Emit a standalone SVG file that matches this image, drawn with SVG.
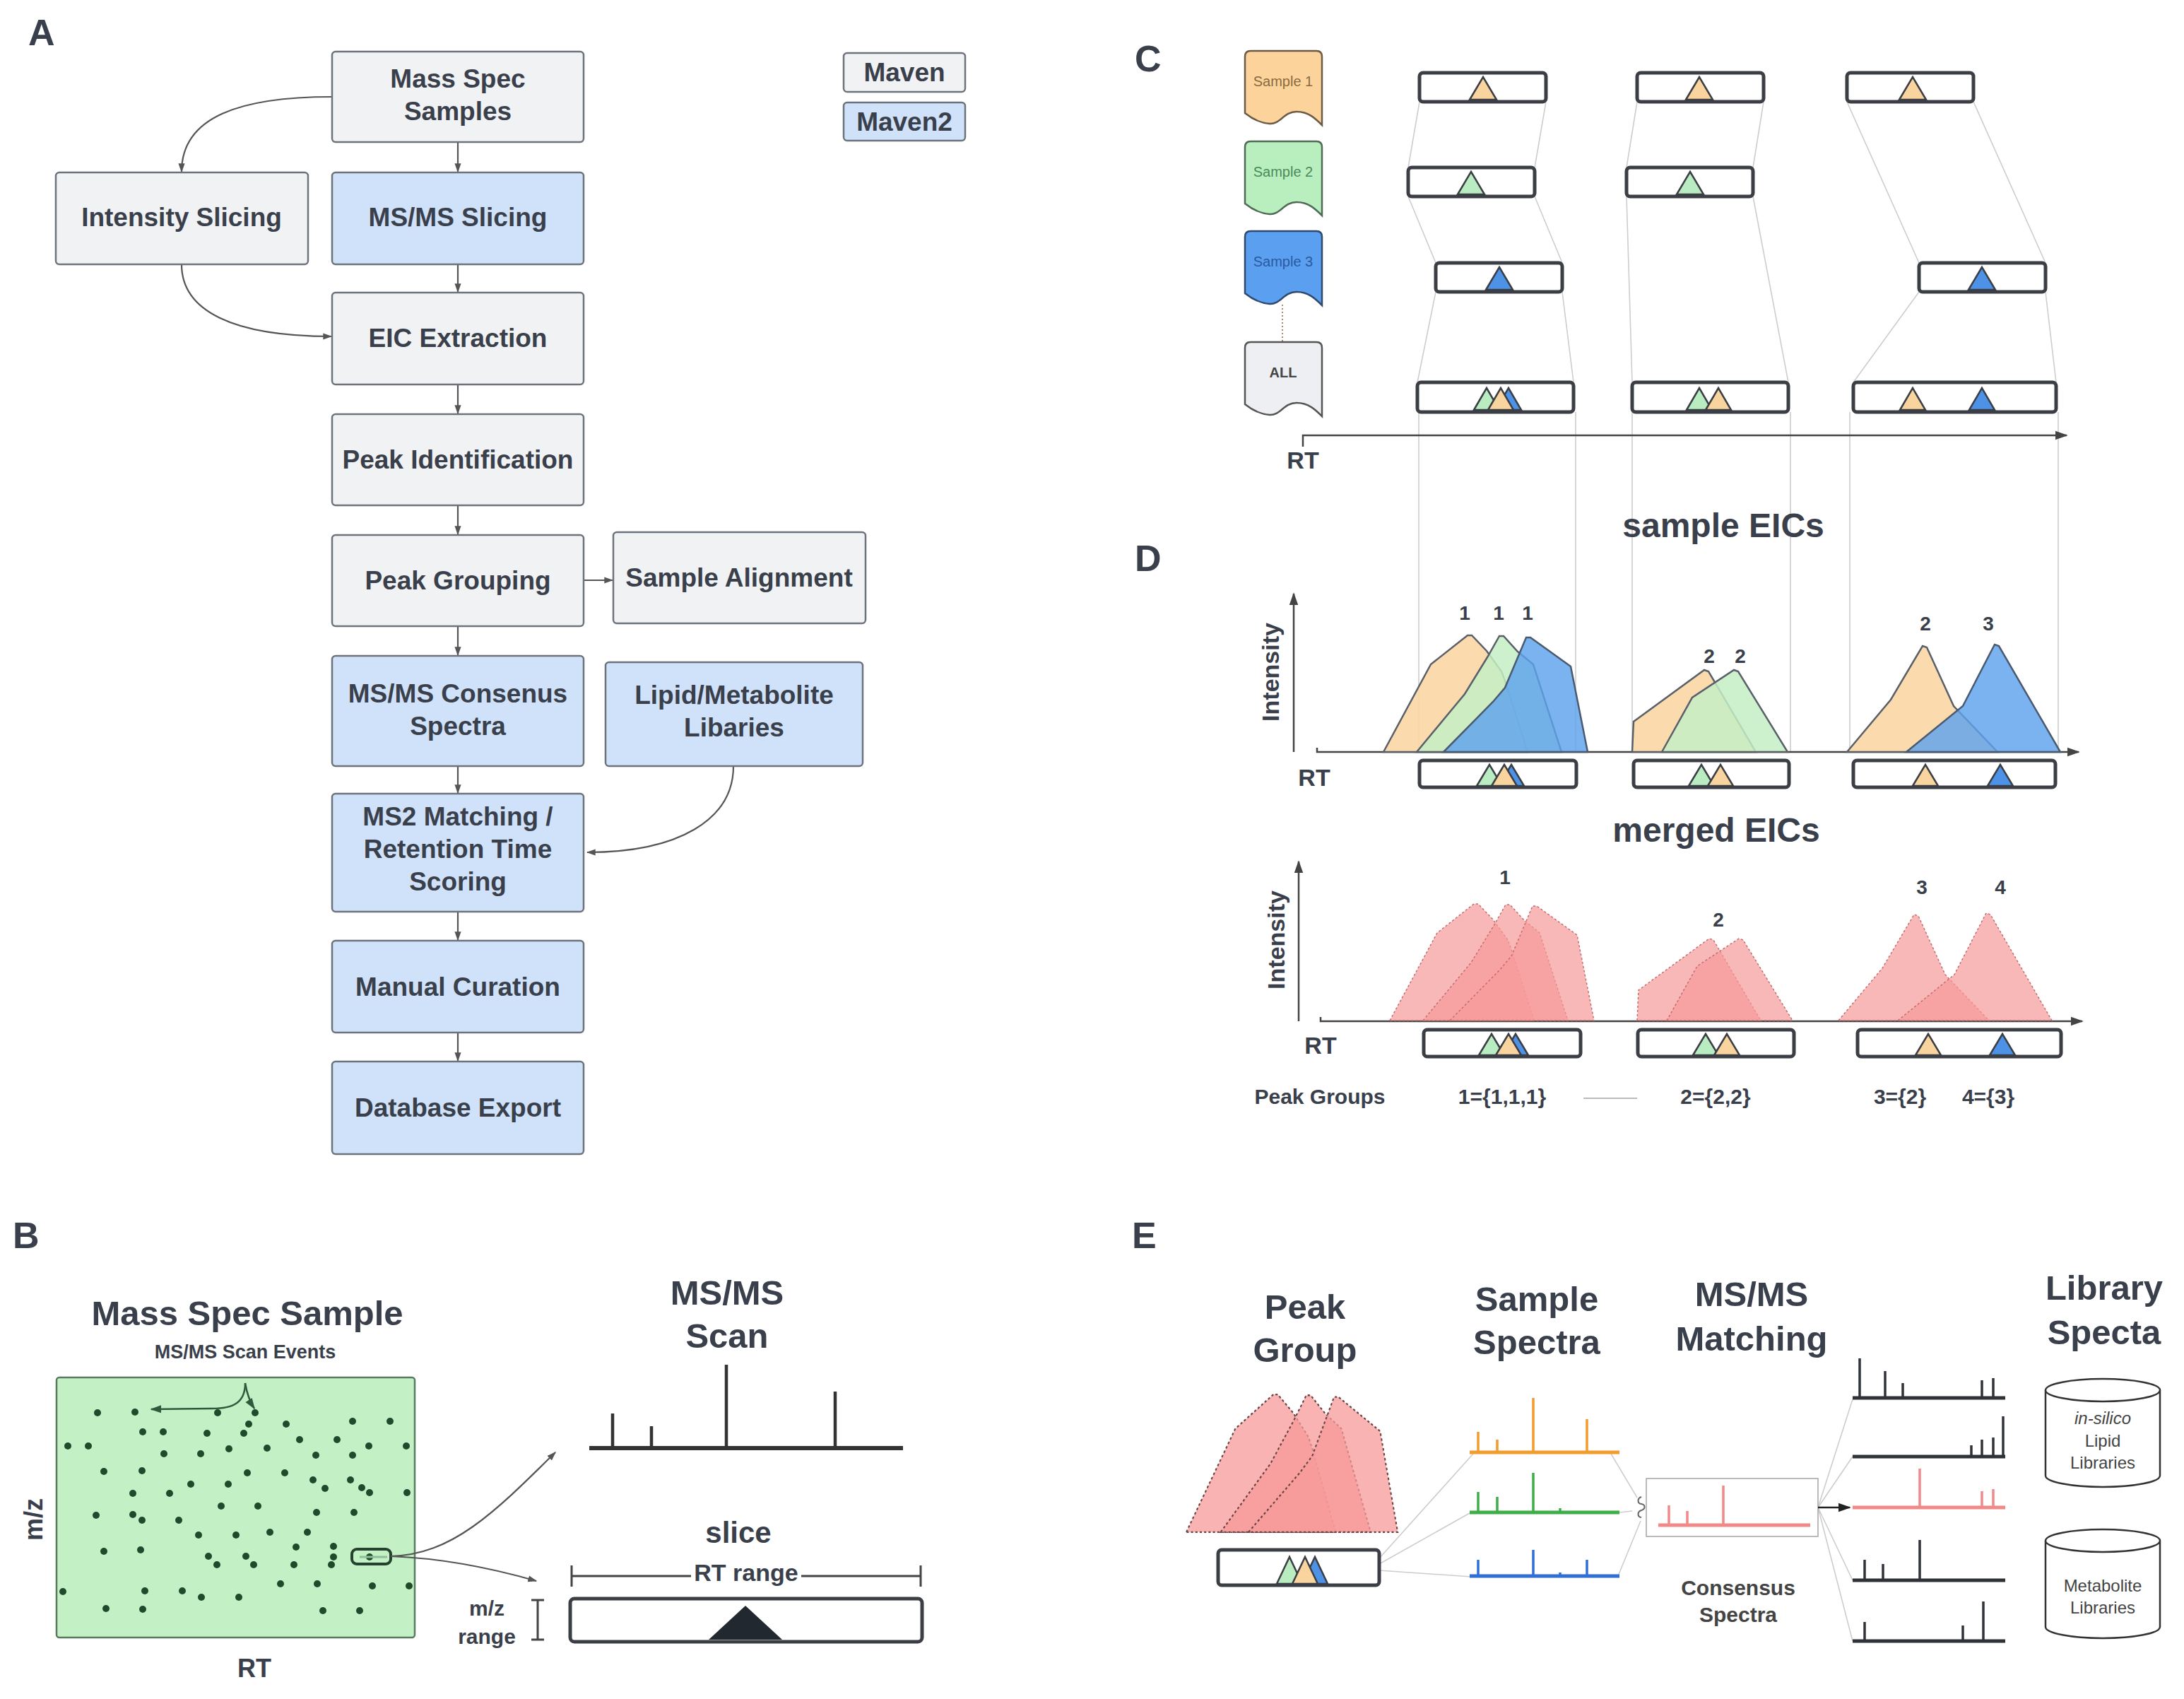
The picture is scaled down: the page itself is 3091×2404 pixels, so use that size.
<svg xmlns="http://www.w3.org/2000/svg" width="3091" height="2404" viewBox="0 0 3091 2404">
<defs>
<style>
text{font-family:"Liberation Sans",Arial,sans-serif;font-weight:bold;fill:#3a404b;text-anchor:middle}
.box{stroke:#6c737d;stroke-width:2.5}
.g{fill:#f1f2f4}
.b{fill:#cfe2fa}
.nt{font-size:37px}
.lbl{font-size:52px;text-anchor:start}
.ttl{font-size:49px}
.flow{fill:none;stroke:#555;stroke-width:2.2;marker-end:url(#ah)}
.eic{fill:#fff;stroke:#3b3e44;stroke-width:5}
.tri{stroke:#3b3e44;stroke-width:2.5}
.to{fill:#f9d49e}.tg{fill:#b9ecc1}.tb{fill:#4d92e6}
.thin{stroke:#cdcdcd;stroke-width:1.6;fill:none}
.axis{fill:none;stroke:#444;stroke-width:2.5;marker-end:url(#ahk)}
.po{fill:#fbd8a6;fill-opacity:.92;stroke:#5a6069;stroke-width:2.5}
.pg{fill:#c4efc4;fill-opacity:.85;stroke:#5a6069;stroke-width:2.5}
.pb{fill:#5ea2ee;fill-opacity:.82;stroke:#4a5a70;stroke-width:2.5}
.mrg{fill:#f79a9a;fill-opacity:.7;stroke:#c46c6c;stroke-width:1.5;stroke-dasharray:3 3}
.epk{fill:#f79a9a;fill-opacity:.75;stroke:#6a4444;stroke-width:2;stroke-dasharray:3 3}
.dot{fill:#1f4a2c}
.num{font-size:28px}
.ax{font-size:34px}
.spb{fill:none;stroke-width:5}
.spp{fill:none;stroke-width:3.5}
.cyl{fill:#fff;stroke:#333;stroke-width:2.5}
.ct{font-size:24px;font-weight:normal;fill:#444}
.doct{font-size:20px;font-weight:normal}
</style>
<marker id="ah" viewBox="0 0 10 10" refX="9" refY="5" markerWidth="13" markerHeight="13" markerUnits="userSpaceOnUse" orient="auto"><path d="M0,1.5 L10,5 L0,8.5 z" fill="#555"/></marker>
<marker id="ahk" viewBox="0 0 10 10" refX="9" refY="5" markerWidth="18" markerHeight="18" markerUnits="userSpaceOnUse" orient="auto"><path d="M0,1.5 L10,5 L0,8.5 z" fill="#444"/></marker>
<marker id="ahg" viewBox="0 0 10 10" refX="9" refY="5" markerWidth="16" markerHeight="16" markerUnits="userSpaceOnUse" orient="auto"><path d="M0,1.5 L10,5 L0,8.5 z" fill="#2f5a3c"/></marker>
<marker id="ahd" viewBox="0 0 10 10" refX="9" refY="5" markerWidth="18" markerHeight="18" markerUnits="userSpaceOnUse" orient="auto"><path d="M0,1.5 L10,5 L0,8.5 z" fill="#222"/></marker>
<path id="doc" d="M8,0 H101 Q109,0 109,8 V105 C100,96 90,86 73,86 C55,86 50,104 35,103 C22,102 10,96 0,88 V8 Q0,0 8,0 Z"/>
<polygon id="o1" points="1958,1064 2025,940 2077,899 2083,899 2104,921 2125,950 2131,966 2162,1064"/>
<polygon id="g1" points="2005,1064 2073,982 2105,930 2122,900 2128,900 2148,922 2170,940 2210,1064"/>
<polygon id="b1" points="2043,1064 2113,993 2130,973 2160,902 2166,902 2223,943 2247,1064"/>
<polygon id="o2" points="2310,1064 2312,1021 2412,948 2418,950 2485,1064"/>
<polygon id="g2" points="2352,1064 2395,987 2454,948 2460,950 2530,1064"/>
<polygon id="o3" points="2614,1064 2676,990 2721,914 2727,916 2765,999 2827,1064"/>
<polygon id="b3" points="2698,1064 2778,999 2823,912 2829,914 2916,1064"/>
</defs>
<rect width="3091" height="2404" fill="#fff"/>

<!-- Panel labels -->
<text class="lbl" x="40" y="64">A</text>
<text class="lbl" x="18" y="1766">B</text>
<text class="lbl" x="1606" y="101">C</text>
<text class="lbl" x="1606" y="808">D</text>
<text class="lbl" x="1602" y="1766">E</text>

<!-- ===== Panel A connectors ===== -->
<g id="connectors-A">
<path class="flow" d="M648 201 V243"/>
<path class="flow" d="M648 374 V413"/>
<path class="flow" d="M648 544 V585"/>
<path class="flow" d="M648 715 V756"/>
<path class="flow" d="M826 821 H867"/>
<path class="flow" d="M648 886 V927"/>
<path class="flow" d="M648 1084 V1122"/>
<path class="flow" d="M648 1290 V1330"/>
<path class="flow" d="M648 1461 V1501"/>
<path class="flow" d="M470 137 C340 137 257 165 257 243"/>
<path class="flow" d="M257 374 C257 440 330 476 469 476"/>
<path class="flow" d="M1038 1084 C1038 1160 960 1206 831 1206"/>
</g>

<!-- ===== Panel A nodes ===== -->
<g id="n-massspec"><rect class="box g" x="470" y="73" width="356" height="128" rx="5"/><text class="nt" x="648" y="124">Mass Spec</text><text class="nt" x="648" y="170">Samples</text></g>
<g id="n-intensity"><rect class="box g" x="79" y="244" width="357" height="130" rx="5"/><text class="nt" x="257" y="320">Intensity Slicing</text></g>
<g id="n-msmsslicing"><rect class="box b" x="470" y="244" width="356" height="130" rx="5"/><text class="nt" x="648" y="320">MS/MS Slicing</text></g>
<g id="n-eic"><rect class="box g" x="470" y="414" width="356" height="130" rx="5"/><text class="nt" x="648" y="491">EIC Extraction</text></g>
<g id="n-peakid"><rect class="box g" x="470" y="586" width="356" height="129" rx="5"/><text class="nt" x="648" y="663">Peak Identification</text></g>
<g id="n-peakgroup"><rect class="box g" x="470" y="757" width="356" height="129" rx="5"/><text class="nt" x="648" y="834">Peak Grouping</text></g>
<g id="n-samplealign"><rect class="box g" x="868" y="753" width="357" height="129" rx="5"/><text class="nt" x="1046" y="830">Sample Alignment</text></g>
<g id="n-consensus"><rect class="box b" x="470" y="928" width="356" height="156" rx="5"/><text class="nt" x="648" y="994">MS/MS Consenus</text><text class="nt" x="648" y="1040">Spectra</text></g>
<g id="n-lipid"><rect class="box b" x="857" y="937" width="364" height="147" rx="5"/><text class="nt" x="1039" y="996">Lipid/Metabolite</text><text class="nt" x="1039" y="1042">Libaries</text></g>
<g id="n-ms2"><rect class="box b" x="470" y="1123" width="356" height="167" rx="5"/><text class="nt" x="648" y="1168">MS2 Matching /</text><text class="nt" x="648" y="1214">Retention Time</text><text class="nt" x="648" y="1260">Scoring</text></g>
<g id="n-manual"><rect class="box b" x="470" y="1331" width="356" height="130" rx="5"/><text class="nt" x="648" y="1409">Manual Curation</text></g>
<g id="n-dbexport"><rect class="box b" x="470" y="1502" width="356" height="131" rx="5"/><text class="nt" x="648" y="1580">Database Export</text></g>
<g id="legend-maven"><rect class="box g" x="1194" y="75" width="172" height="55" rx="5"/><text class="nt" x="1280" y="115">Maven</text></g>
<g id="legend-maven2"><rect class="box b" x="1194" y="145" width="172" height="54" rx="5"/><text class="nt" x="1280" y="185">Maven2</text></g>

<!-- ===== Panel B ===== -->
<g id="panel-B">
<text class="ttl" x="350" y="1875">Mass Spec Sample</text>
<text x="347" y="1922" style="font-size:27px">MS/MS Scan Events</text>
<rect x="80" y="1949" width="507" height="368" rx="4" fill="#c4f0c6" stroke="#587a5e" stroke-width="2.5"/>
<g class="dot">
<circle cx="138" cy="1999" r="5"/><circle cx="191" cy="1998" r="5"/><circle cx="308" cy="1999" r="5"/><circle cx="361" cy="1999" r="5"/>
<circle cx="352" cy="2015" r="5"/><circle cx="405" cy="2015" r="5"/><circle cx="499" cy="2011" r="5"/><circle cx="552" cy="2011" r="5"/>
<circle cx="202" cy="2026" r="5"/><circle cx="231" cy="2026" r="5"/><circle cx="293" cy="2028" r="5"/><circle cx="345" cy="2028" r="5"/>
<circle cx="424" cy="2037" r="5"/><circle cx="477" cy="2037" r="5"/><circle cx="522" cy="2046" r="5"/><circle cx="575" cy="2046" r="5"/>
<circle cx="96" cy="2046" r="5"/><circle cx="125" cy="2046" r="5"/>
<circle cx="232" cy="2057" r="5"/><circle cx="284" cy="2057" r="5"/><circle cx="324" cy="2050" r="5"/><circle cx="378" cy="2049" r="5"/><circle cx="447" cy="2059" r="5"/><circle cx="499" cy="2059" r="5"/>
<circle cx="147" cy="2082" r="5"/><circle cx="201" cy="2081" r="5"/><circle cx="350" cy="2084" r="5"/><circle cx="403" cy="2084" r="5"/>
<circle cx="270" cy="2100" r="5"/><circle cx="323" cy="2100" r="5"/><circle cx="443" cy="2094" r="5"/><circle cx="460" cy="2106" r="5"/><circle cx="496" cy="2094" r="5"/><circle cx="512" cy="2105" r="5"/><circle cx="523" cy="2112" r="5"/><circle cx="576" cy="2112" r="5"/>
<circle cx="188" cy="2113" r="5"/><circle cx="240" cy="2113" r="5"/>
<circle cx="313" cy="2131" r="5"/><circle cx="365" cy="2131" r="5"/>
<circle cx="136" cy="2144" r="5"/><circle cx="188" cy="2143" r="5"/><circle cx="201" cy="2151" r="5"/><circle cx="253" cy="2151" r="5"/><circle cx="448" cy="2140" r="5"/><circle cx="501" cy="2140" r="5"/>
<circle cx="281" cy="2172" r="5"/><circle cx="334" cy="2172" r="5"/><circle cx="382" cy="2168" r="5"/><circle cx="435" cy="2168" r="5"/>
<circle cx="147" cy="2195" r="5"/><circle cx="199" cy="2193" r="5"/><circle cx="419" cy="2189" r="5"/><circle cx="472" cy="2188" r="5"/>
<circle cx="295" cy="2202" r="5"/><circle cx="348" cy="2202" r="5"/><circle cx="472" cy="2203" r="5"/><circle cx="307" cy="2214" r="5"/><circle cx="359" cy="2214" r="5"/><circle cx="416" cy="2214" r="5"/><circle cx="469" cy="2214" r="5"/>
<circle cx="397" cy="2241" r="5"/><circle cx="449" cy="2241" r="5"/><circle cx="527" cy="2244" r="5"/><circle cx="579" cy="2244" r="5"/>
<circle cx="89" cy="2252" r="5"/><circle cx="205" cy="2251" r="5"/><circle cx="258" cy="2251" r="5"/><circle cx="285" cy="2260" r="5"/><circle cx="338" cy="2260" r="5"/>
<circle cx="150" cy="2276" r="5"/><circle cx="202" cy="2277" r="5"/><circle cx="457" cy="2279" r="5"/><circle cx="509" cy="2279" r="5"/>
<circle cx="523" cy="2203" r="5"/>
</g>
<path d="M347 1957 C347 1985 330 1993 300 1993 L214 1994" fill="none" stroke="#2f5a3c" stroke-width="2.5" marker-end="url(#ahg)"/>
<path d="M347 1957 C350 1975 354 1984 360 1993" fill="none" stroke="#2f5a3c" stroke-width="2.5" marker-end="url(#ahg)"/>
<rect x="498" y="2192" width="55" height="21" rx="7" fill="none" stroke="#24422d" stroke-width="4"/>
<path d="M509 2203 H548" stroke="#8fbf95" stroke-width="3"/>
<path class="flow" d="M553 2202 C640 2200 700 2140 786 2055"/>
<path class="flow" d="M553 2202 C630 2205 700 2220 759 2237"/>
<text x="48" y="2150" transform="rotate(-90 48 2150)" style="font-size:36px" dy="12">m/z</text>
<text x="360" y="2373" style="font-size:36px">RT</text>
<text class="ttl" x="1029" y="1846">MS/MS</text>
<text class="ttl" x="1029" y="1907">Scan</text>
<path d="M834 2049 H1278" stroke="#333" stroke-width="6" fill="none"/>
<path d="M867 2049 V2000 M922 2049 V2018 M1028 2049 V1931 M1182 2049 V1969" stroke="#333" stroke-width="4.5" fill="none"/>
<text x="1045" y="2183" style="font-size:42px">slice</text>
<path d="M809 2230 H978 M1134 2230 H1303 M809 2215 V2245 M1303 2215 V2245" stroke="#444" stroke-width="3" fill="none"/>
<text x="1056" y="2237" style="font-size:34px">RT range</text>
<rect x="807" y="2262" width="498" height="61" rx="6" fill="#fff" stroke="#3b3e44" stroke-width="5"/>
<polygon points="1003,2320 1055,2272 1107,2320" fill="#222830"/>
<path d="M752 2264 H770 M761 2264 V2320 M752 2320 H770" stroke="#444" stroke-width="3" fill="none"/>
<text x="689" y="2286" style="font-size:30px">m/z</text>
<text x="689" y="2326" style="font-size:30px">range</text>
</g>

<!-- ===== Panel C ===== -->
<g id="panel-C">
<g id="doc-s1"><use href="#doc" x="1762" y="72" fill="#fcd49b" stroke="#6b5a45" stroke-width="2.5"/><text class="doct" x="1816" y="122" style="fill:#8a6a40">Sample 1</text></g>
<g id="doc-s2"><use href="#doc" x="1762" y="200" fill="#b9efbf" stroke="#4f6b55" stroke-width="2.5"/><text class="doct" x="1816" y="250" style="fill:#4a8a5a">Sample 2</text></g>
<g id="doc-s3"><use href="#doc" x="1762" y="327" fill="#5b9ff0" stroke="#2f4a6e" stroke-width="2.5"/><text class="doct" x="1816" y="377" style="fill:#2a5aa0">Sample 3</text></g>
<path d="M1815 431 V484" stroke="#a0603d" stroke-width="1.5" stroke-dasharray="2 3"/>
<g id="doc-all"><use href="#doc" x="1762" y="484" fill="#eeeff2" stroke="#555" stroke-width="2.5"/><text class="doct" x="1816" y="534" style="font-weight:bold;fill:#444">ALL</text></g>
<g class="thin">
<path d="M2009 144 L1993 237 M2188 144 L2172 237 M1993 278 L2032 372 M2172 278 L2211 372 M2032 413 L2006 541 M2211 413 L2227 541"/>
<path d="M2317 144 L2302 237 M2496 144 L2481 237 M2302 278 L2310 541 M2481 278 L2531 541"/>
<path d="M2614 144 L2716 372 M2793 144 L2895 372 M2716 413 L2623 541 M2895 413 L2910 541"/>
<path d="M2008 583 V1064 M2230 583 V1064 M2310 583 V1064 M2534 583 V1064 M2618 583 V1064 M2913 583 V1064"/>
</g>
<rect class="eic" x="2009" y="103" width="179" height="41" rx="5"/>
<rect class="eic" x="2317" y="103" width="179" height="41" rx="5"/>
<rect class="eic" x="2614" y="103" width="179" height="41" rx="5"/>
<rect class="eic" x="1993" y="237" width="179" height="41" rx="5"/>
<rect class="eic" x="2302" y="237" width="179" height="41" rx="5"/>
<rect class="eic" x="2032" y="372" width="179" height="41" rx="5"/>
<rect class="eic" x="2716" y="372" width="179" height="41" rx="5"/>
<rect class="eic" x="2006" y="541" width="221" height="42" rx="5"/>
<rect class="eic" x="2310" y="541" width="221" height="42" rx="5"/>
<rect class="eic" x="2623" y="541" width="287" height="42" rx="5"/>
<polygon class="tri to" points="2080,141 2099,109 2118,141"/>
<polygon class="tri to" points="2386,141 2405,109 2424,141"/>
<polygon class="tri to" points="2688,141 2707,109 2726,141"/>
<polygon class="tri tg" points="2063,275 2082,243 2101,275"/>
<polygon class="tri tg" points="2373,275 2392,243 2411,275"/>
<polygon class="tri tb" points="2103,410 2122,378 2141,410"/>
<polygon class="tri tb" points="2786,410 2805,378 2824,410"/>
<polygon class="tri tb" points="2117,580 2135,549 2153,580"/>
<polygon class="tri tg" points="2086,580 2104,549 2122,580"/>
<polygon class="tri to" points="2106,580 2124,549 2142,580"/>
<polygon class="tri tg" points="2387,580 2405,549 2423,580"/>
<polygon class="tri to" points="2414,580 2432,549 2450,580"/>
<polygon class="tri to" points="2689,580 2707,549 2725,580"/>
<polygon class="tri tb" points="2787,580 2805,549 2823,580"/>
<path class="axis" d="M1844 632 V616 H2925"/>
<text class="ax" x="1844" y="663">RT</text>
</g>

<!-- ===== Panel D ===== -->
<g id="panel-D">
<text x="2439" y="760" style="font-size:48px">sample EICs</text>
<path class="axis" d="M1831 1064 V840"/>
<path class="axis" d="M1864 1058 V1064 H2942"/>
<text class="ax" x="1798" y="951" transform="rotate(-90 1798 951)" dy="12">Intensity</text>
<text class="ax" x="1860" y="1112">RT</text>
<use href="#o1" class="po"/><use href="#g1" class="pg"/><use href="#b1" class="pb"/>
<use href="#o2" class="po"/><use href="#g2" class="pg"/>
<use href="#o3" class="po"/><use href="#b3" class="pb"/>
<text class="num" x="2073" y="877">1</text><text class="num" x="2121" y="877">1</text><text class="num" x="2162" y="877">1</text>
<text class="num" x="2419" y="938">2</text><text class="num" x="2463" y="938">2</text>
<text class="num" x="2725" y="892">2</text><text class="num" x="2814" y="892">3</text>
<rect class="eic" x="2009" y="1076" width="222" height="38" rx="5"/>
<rect class="eic" x="2312" y="1076" width="220" height="38" rx="5"/>
<rect class="eic" x="2623" y="1076" width="286" height="38" rx="5"/>
<polygon class="tri tb" points="2121,1112 2139,1082 2157,1112"/>
<polygon class="tri tg" points="2090,1112 2108,1082 2126,1112"/>
<polygon class="tri to" points="2111,1112 2129,1082 2147,1112"/>
<polygon class="tri tg" points="2390,1112 2408,1082 2426,1112"/>
<polygon class="tri to" points="2417,1112 2435,1082 2453,1112"/>
<polygon class="tri to" points="2707,1112 2725,1082 2743,1112"/>
<polygon class="tri tb" points="2813,1112 2831,1082 2849,1112"/>

<text x="2429" y="1191" style="font-size:48px">merged EICs</text>
<path class="axis" d="M1838 1445 V1219"/>
<path class="axis" d="M1869 1439 V1445 H2947"/>
<text class="ax" x="1806" y="1330" transform="rotate(-90 1806 1330)" dy="12">Intensity</text>
<text class="ax" x="1869" y="1491">RT</text>
<g transform="translate(9 380)"><use href="#o1" class="mrg"/><use href="#g1" class="mrg"/><use href="#b1" class="mrg"/></g>
<g transform="translate(7 380)"><use href="#o2" class="mrg"/><use href="#g2" class="mrg"/></g>
<g transform="translate(-12 380)"><use href="#o3" class="mrg"/><use href="#b3" class="mrg"/></g>
<text class="num" x="2130" y="1251">1</text>
<text class="num" x="2432" y="1311">2</text>
<text class="num" x="2720" y="1265">3</text><text class="num" x="2831" y="1265">4</text>
<rect class="eic" x="2015" y="1457" width="222" height="38" rx="5"/>
<rect class="eic" x="2318" y="1457" width="221" height="38" rx="5"/>
<rect class="eic" x="2629" y="1457" width="288" height="38" rx="5"/>
<polygon class="tri tb" points="2127,1493 2145,1463 2163,1493"/>
<polygon class="tri tg" points="2093,1493 2111,1463 2129,1493"/>
<polygon class="tri to" points="2117,1493 2135,1463 2153,1493"/>
<polygon class="tri tg" points="2396,1493 2414,1463 2432,1493"/>
<polygon class="tri to" points="2426,1493 2444,1463 2462,1493"/>
<polygon class="tri to" points="2711,1493 2729,1463 2747,1493"/>
<polygon class="tri tb" points="2816,1493 2834,1463 2852,1493"/>
<text x="1868" y="1562" style="font-size:30px">Peak Groups</text>
<text x="2126" y="1562" style="font-size:30px">1={1,1,1}</text>
<path d="M2241 1554 H2317" stroke="#bbb" stroke-width="2"/>
<text x="2428" y="1562" style="font-size:30px">2={2,2}</text>
<text x="2689" y="1562" style="font-size:30px">3={2}</text>
<text x="2814" y="1562" style="font-size:30px">4={3}</text>
</g>

<!-- ===== Panel E ===== -->
<g id="panel-E">
<text class="ttl" x="1847" y="1866">Peak</text><text class="ttl" x="1847" y="1927">Group</text>
<text class="ttl" x="2175" y="1855">Sample</text><text class="ttl" x="2175" y="1916">Spectra</text>
<text class="ttl" x="2479" y="1848">MS/MS</text><text class="ttl" x="2479" y="1911">Matching</text>
<text class="ttl" x="2978" y="1839">Library</text><text class="ttl" x="2978" y="1902">Specta</text>
<g transform="matrix(1.035 0 0 1.18 -347.5 912.3)"><use href="#o1" class="epk"/><use href="#g1" class="epk"/><use href="#b1" class="epk"/></g>
<g class="thin">
<path d="M1952 2205 L2085 2057 M1952 2213 L2080 2141 M1952 2222 L2082 2231"/>
<path d="M2280 2057 L2317 2119 M2292 2140 L2310 2138 M2290 2230 L2322 2152"/>
<path d="M2573 2133 L2622 1980 M2573 2133 L2622 2061 M2573 2133 L2622 2236 M2573 2133 L2622 2322"/>
</g>
<rect class="eic" x="1724" y="2193" width="228" height="50" rx="5"/>
<polygon class="tri tb" points="1843,2241 1861,2203 1879,2241"/>
<polygon class="tri tg" points="1807,2241 1825,2203 1843,2241"/>
<polygon class="tri to" points="1829,2241 1847,2203 1865,2241"/>
<g stroke="#f29b2e"><path class="spb" d="M2080 2055 H2292"/><path class="spp" d="M2092 2055 V2026 M2119 2055 V2037 M2170 2055 V1978 M2246 2055 V2008"/></g>
<g stroke="#3fae49"><path class="spb" d="M2080 2140 H2292"/><path class="spp" d="M2092 2140 V2111 M2119 2140 V2118 M2170 2140 V2084 M2208 2140 V2134"/></g>
<g stroke="#2f6fd6"><path class="spb" d="M2080 2230 H2292"/><path class="spp" d="M2092 2230 V2207 M2170 2230 V2193 M2208 2230 V2225 M2246 2230 V2207"/></g>
<path d="M2323 2118 c-6 2 -6 9 0 10 c6 1 6 7 0 9 c-6 2 -6 9 0 10" fill="none" stroke="#666" stroke-width="2"/>
<rect x="2330" y="2092" width="243" height="82" fill="#fff" stroke="#aaa" stroke-width="1.6"/>
<g stroke="#f08a8a"><path class="spb" d="M2347 2158 H2562"/><path class="spp" d="M2362 2158 V2130 M2388 2158 V2138 M2439 2158 V2102"/></g>
<path d="M2573 2133 H2618" stroke="#222" stroke-width="2.5" marker-end="url(#ahd)"/>
<text x="2460" y="2257" style="font-size:30px;fill:#444">Consensus</text>
<text x="2460" y="2295" style="font-size:30px;fill:#444">Spectra</text>
<g stroke="#2f3338">
<path class="spb" d="M2622 1978 H2838 M2622 2061 H2838 M2622 2236 H2838 M2622 2322 H2838"/>
<path class="spp" d="M2632 1978 V1922 M2668 1978 V1940 M2693 1978 V1957 M2805 1978 V1953 M2821 1978 V1950"/>
<path class="spp" d="M2790 2061 V2045 M2805 2061 V2037 M2821 2061 V2034 M2835 2061 V2004"/>
<path class="spp" d="M2639 2236 V2207 M2665 2236 V2213 M2717 2236 V2179"/>
<path class="spp" d="M2639 2322 V2295 M2778 2322 V2300 M2807 2322 V2266"/>
</g>
<g stroke="#f08a8a"><path class="spb" d="M2622 2133 H2838"/><path class="spp" d="M2717 2133 V2078 M2805 2133 V2110 M2821 2133 V2107"/></g>
<g id="cyl-lipid">
<path class="cyl" d="M2895 1967 V2088 A81 16 0 0 0 3057 2088 V1967"/>
<ellipse class="cyl" cx="2976" cy="1967" rx="81" ry="16"/>
<text class="ct" x="2976" y="2015" font-style="italic">in-silico</text>
<text class="ct" x="2976" y="2047">Lipid</text>
<text class="ct" x="2976" y="2078">Libraries</text>
</g>
<g id="cyl-metab">
<path class="cyl" d="M2895 2180 V2302 A81 16 0 0 0 3057 2302 V2180"/>
<ellipse class="cyl" cx="2976" cy="2180" rx="81" ry="16"/>
<text class="ct" x="2976" y="2252">Metabolite</text>
<text class="ct" x="2976" y="2283">Libraries</text>
</g>
</g>
</svg>
